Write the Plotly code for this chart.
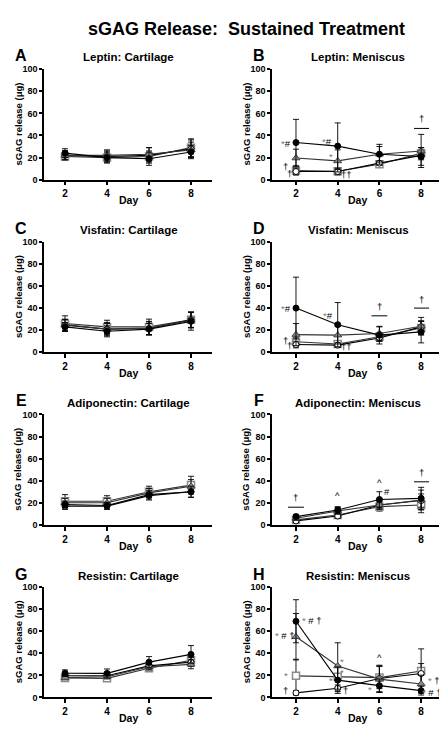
import plotly.graph_objects as go

# ---------------- data ----------------
days = [2, 4, 6, 8]
y_ticks = [0, 20, 40, 60, 80, 100]
series_names = ["Filled circle", "Open circle", "Triangle", "Open square"]

panel_letters = ["A", "B", "C", "D", "E", "F", "G", "H"]
panel_titles = ["Leptin: Cartilage", "Leptin: Meniscus",
                "Visfatin: Cartilage", "Visfatin: Meniscus",
                "Adiponectin: Cartilage", "Adiponectin: Meniscus",
                "Resistin: Cartilage", "Resistin: Meniscus"]

# means per panel: [filled circle, open circle, triangle, open square]
A_mean = [[24, 20, 19, 25], [22, 21, 22, 28], [22, 22, 23, 27], [21, 20, 21, 29]]
A_sd = [[4, 5, 6, 6], [4, 5, 7, 8], [4, 5, 6, 7], [3, 4, 5, 8]]
B_mean = [[33.6, 30.4, 23, 21], [7.4, 7.4, 15, 22], [19.6, 17, 23, 26], [8.3, 7.7, 14, 24]]
B_sd = [[21, 21, 9, 8], [3, 3, 2, 4], [8, 10, 7, 15], [4, 3, 3, 5]]
C_mean = [[23, 19, 21, 28], [24.5, 21, 21.5, 29.5], [25, 21, 22, 29], [26, 23, 23, 29.5]]
C_sd = [[4, 5, 5, 8], [5, 6, 6, 7], [5, 5, 6, 7], [7, 6, 7, 7]]
D_mean = [[40, 25, 15.5, 18.5], [7, 6.5, 13, 23], [16, 15.5, 17, 23.6], [9.5, 7.5, 14, 22]]
D_sd = [[28, 20, 8, 10], [3, 2, 3, 5], [10, 8, 6, 8], [4, 3, 4, 6]]
E_mean = [[18.5, 17.5, 27.4, 30], [17, 17, 26.5, 30], [20, 20, 29, 35], [21.4, 21.4, 30, 36]]
E_sd = [[3, 3, 4, 5], [3, 3, 4, 5], [4, 4, 4, 6], [6, 5, 5, 8]]
F_mean = [[7.5, 13.5, 23, 24], [3.6, 8, 18, 22], [6, 12.6, 18, 22.5], [4.5, 9, 16.5, 18]]
F_sd = [[2, 3, 7, 10], [1, 2, 3, 6], [2, 3, 4, 9], [2, 2, 4, 7]]
G_mean = [[22, 21.8, 32, 39], [19.7, 19.7, 28.6, 32], [18, 18.8, 27.8, 30], [17.6, 17.3, 26.5, 33.7]]
G_sd = [[3, 4, 5, 8], [2, 2, 3, 4], [2, 2, 3, 4], [2, 2, 3, 4]]
H_mean = [[69, 15.7, 10.7, 6.2], [4.2, 8.3, 17.2, 21.7], [55, 28.5, 16.6, 12.2], [19.6, 18.7, 18, 24]]
H_sd = [[19.5, 12, 6, 4], [2, 3, 12, 9], [21, 21, 12, 8], [15, 10, 10, 20]]

panel_means = [A_mean, B_mean, C_mean, D_mean, E_mean, F_mean, G_mean, H_mean]
panel_sds = [A_sd, B_sd, C_sd, D_sd, E_sd, F_sd, G_sd, H_sd]

# significance labels: (panel index, text, day, value)
sig_labels = [
    (1, "*#", 1.52, 33), (1, "*#", 3.48, 35), (1, "*", 3.67, 21),
    (1, "†", 1.52, 12), (1, "†", 1.67, 6), (1, "††", 4.43, 5), (1, "†", 8, 55),
    (3, "*#", 1.52, 40), (3, "*#", 3.55, 33), (3, "†", 1.52, 11), (3, "†", 1.67, 6),
    (3, "††", 4.43, 5), (3, "†", 6, 41), (3, "†", 8, 48),
    (5, "†", 2, 25), (5, "^", 4, 27), (5, "^", 6, 38), (5, "#", 6.35, 30), (5, "†", 8, 47),
    (7, "* # †", 2.75, 70), (7, "* # †", 1.45, 56), (7, "*", 1.52, 19.6), (7, "†", 1.52, 6),
    (7, "*", 4.2, 33), (7, "*", 4.2, 23), (7, "*", 3.67, 15.7), (7, "†", 4.38, 6),
    (7, "*", 5.57, 7), (7, "^", 6, 36), (7, "* †", 8.6, 15), (7, "* # †", 8.52, 4.7),
]
# significance bars: (panel index, day start, day end, value)
sig_bars = [(1, 7.66, 8.38, 46.4), (3, 5.62, 6.38, 33), (3, 7.66, 8.38, 40),
            (5, 1.62, 2.38, 16), (5, 7.66, 8.38, 39)]

# ---------------- styling ----------------
FONT = "Liberation Sans"
W, H = 447, 729
left_px = (36, 204)
right_px = (264, 434)
rows_px = [(57, 169), (232, 344), (407, 519), (582, 694)]
letter_y = [43, 218, 393, 569]

styles = [
    dict(symbol="circle", size=6, color="black", line=dict(color="black", width=1)),
    dict(symbol="circle", size=6, color="white", line=dict(color="black", width=1)),
    dict(symbol="triangle-up", size=7, color="#8a8a8a", line=dict(color="#444", width=1)),
    dict(symbol="square", size=7, color="white", line=dict(color="#8a8a8a", width=1.5)),
]
line_colors = ["black", "black", "#333", "#333"]
draw_order = [3, 1, 2, 0]

fig = go.Figure()

for p in range(8):
    r, c = divmod(p, 2)
    ax = "" if p == 0 else str(p + 1)
    xpx = left_px if c == 0 else right_px
    ypx = rows_px[r]
    xdom = [xpx[0] / W, xpx[1] / W]
    ydom = [1 - ypx[1] / H, 1 - ypx[0] / H]
    xrange = [1, 9] if c == 0 else [0.85, 9]
    for s in draw_order:
        fig.add_trace(go.Scatter(
            x=days, y=panel_means[p][s], name=series_names[s], mode="lines+markers",
            xaxis="x" + ax, yaxis="y" + ax, showlegend=False, cliponaxis=False,
            line=dict(color=line_colors[s], width=1.1),
            marker=styles[s],
            error_y=dict(type="data", array=panel_sds[p][s], color="black",
                         thickness=0.9, width=3),
        ))
    fig.layout["xaxis" + ax] = dict(
        domain=xdom, range=xrange, anchor="y" + ax, tickvals=days,
        showline=True, linecolor="black", linewidth=1.5, ticks="outside",
        ticklen=4, tickwidth=1.5, tickcolor="black", showgrid=False, zeroline=False,
        tickfont=dict(family=FONT, size=10, color="black", weight="bold"),
    )
    fig.layout["yaxis" + ax] = dict(
        domain=ydom, range=[0, 100], anchor="x" + ax, tickvals=y_ticks,
        showline=True, linecolor="black", linewidth=1.5, ticks="outside",
        ticklen=3, tickwidth=1.5, tickcolor="black", showgrid=False, zeroline=False,
        tickfont=dict(family=FONT, size=9, color="black", weight="bold"),
    )
    # panel letter
    fig.add_annotation(text=panel_letters[p], xref="paper", yref="paper",
                       x=(13 if c == 0 else 251) / W, y=1 - letter_y[r] / H,
                       showarrow=False, xanchor="center", yanchor="middle",
                       font=dict(family=FONT, size=16, color="black", weight="bold"))
    # panel title
    fig.add_annotation(text=panel_titles[p], xref="paper", yref="paper",
                       x=(121 if c == 0 else 350) / W, y=1 - (letter_y[r] + 2) / H,
                       showarrow=False, xanchor="center", yanchor="middle",
                       font=dict(family=FONT, size=11.5, color="black", weight="bold"))
    # y title
    fig.add_annotation(text="sGAG release (μg)", xref="paper", yref="paper",
                       x=(10 if c == 0 else 238) / W, y=1 - (ypx[0] + ypx[1]) / 2 / H,
                       textangle=-90, showarrow=False, xanchor="center", yanchor="middle",
                       font=dict(family=FONT, size=9.5, color="black", weight="bold"))
    # x title
    fig.add_annotation(text="Day", xref="paper", yref="paper",
                       x=(xpx[0] + xpx[1]) / 2 / W, y=1 - (ypx[1] + 21) / H,
                       showarrow=False, xanchor="center", yanchor="middle",
                       font=dict(family=FONT, size=10.5, color="black", weight="bold"))

for (p, txt, dx, vy) in sig_labels:
    ax = "" if p == 0 else str(p + 1)
    html = ""
    for ch in txt:
        if ch == "*":
            html += '<span style="color:#777">*</span>'
        else:
            html += ch
    fig.add_annotation(text=html, xref="x" + ax, yref="y" + ax, x=dx, y=vy,
                       showarrow=False, xanchor="center", yanchor="middle",
                       font=dict(family=FONT, size=9.5, color="black"))

for (p, d0, d1, vy) in sig_bars:
    ax = "" if p == 0 else str(p + 1)
    fig.add_shape(type="line", xref="x" + ax, yref="y" + ax, x0=d0, x1=d1, y0=vy, y1=vy,
                  line=dict(color="black", width=1))

fig.add_annotation(text="sGAG Release:  Sustained Treatment", xref="paper", yref="paper",
                   x=238 / W, y=1 - 16 / H, showarrow=False, xanchor="center", yanchor="middle",
                   font=dict(family=FONT, size=18, color="black", weight="bold"))

fig.update_layout(width=W, height=H, margin=dict(l=0, r=0, t=0, b=0),
                  plot_bgcolor="white", paper_bgcolor="white", showlegend=False)

fig.write_html("out.html")
